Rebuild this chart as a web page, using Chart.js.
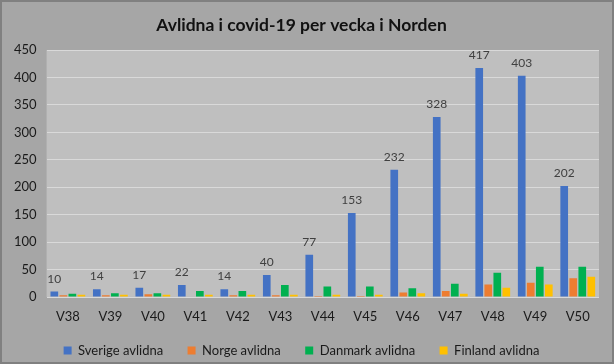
<!DOCTYPE html>
<html>
<head>
<meta charset="utf-8">
<script src="https://cdn.jsdelivr.net/npm/chart.js@4"></script>
<style>
  html, body { margin: 0; padding: 0; background: #a6a6a6; }
  #wrap { width: 614px; height: 364px; position: relative; }
</style>
</head>
<body>
<div id="wrap"><canvas id="deathsChart" width="614" height="364"></canvas></div>
<script>
// weeks and deaths per country
var weeks = ['V38', 'V39', 'V40', 'V41', 'V42', 'V43', 'V44', 'V45', 'V46', 'V47', 'V48', 'V49', 'V50'];
var sverige = [10, 14, 17, 22, 14, 40, 77, 153, 232, 328, 417, 403, 202];
var norge = [3, 3, 5, 0, 3, 3, 2, 2, 8, 11, 23, 26, 34];
var danmark = [6, 7, 7, 11, 11, 22, 19, 19, 16, 24, 44, 55, 55];
var finland = [4, 4, 4, 4, 4, 4, 4, 4, 7, 6, 17, 23, 37];

// backgrounds + outer border
var bgPlugin = {
  id: 'bg',
  beforeDraw: function (chart) {
    var ctx = chart.ctx, a = chart.chartArea
    ctx.save()
    ctx.fillStyle = '#a6a6a6'
    ctx.fillRect(0, 0, chart.width, chart.height)
    ctx.fillStyle = '#bfbfbf'
    ctx.fillRect(a.left, a.top, a.right - a.left, a.bottom - a.top)
    ctx.strokeStyle = '#808080'
    ctx.lineWidth = 2
    ctx.strokeRect(1, 1, chart.width - 2, chart.height - 2)
    ctx.restore()
  }
}

// value labels above the Sverige bars only
var labelPlugin = {
  id: 'sverigeLabels',
  afterDatasetsDraw: function (chart) {
    var ctx = chart.ctx
    var meta = chart.getDatasetMeta(0)
    ctx.save()
    ctx.font = '12px Lato, sans-serif'
    ctx.fillStyle = '#404040'
    ctx.textAlign = 'center'
    ctx.textBaseline = 'alphabetic'
    meta.data.forEach(function (bar, i) {
      ctx.fillText(sverige[i], bar.x, bar.y - 9)
    })
    ctx.restore()
  }
}

var ctx = document.getElementById('deathsChart').getContext('2d')
new Chart(ctx, {
  type: 'bar',
  data: {
    labels: weeks,
    datasets: [
      { label: 'Sverige avlidna', data: sverige, backgroundColor: '#4472c4' },
      { label: 'Norge avlidna', data: norge, backgroundColor: '#ed7d31' },
      { label: 'Danmark avlidna', data: danmark, backgroundColor: '#00b050' },
      { label: 'Finland avlidna', data: finland, backgroundColor: '#ffc000' }
    ]
  },
  options: {
    responsive: false,
    animation: false,
    layout: { padding: { left: 4, right: 15, top: 6, bottom: -3 } },
    datasets: { bar: { categoryPercentage: 0.85, barPercentage: 0.85 } },
    plugins: {
      title: {
        display: true,
        text: 'Avlidna i covid-19 per vecka i Norden',
        color: '#111111',
        font: { family: 'Lato', size: 17.5, weight: 'bold' },
        padding: { top: 9, bottom: 14 }
      },
      legend: {
        position: 'bottom',
        labels: {
          color: '#1a1a1a',
          boxWidth: 8,
          boxHeight: 8,
          padding: 8,
          font: { family: 'Lato', size: 13 },
          // extra gap between legend entries
          generateLabels: function (chart) {
            var items = Chart.defaults.plugins.legend.labels.generateLabels(chart)
            items.forEach(function (it, i) {
              if (i < items.length - 1) it.text = it.text + '\u2003  '
            })
            return items
          }
        }
      },
      tooltip: { enabled: false }
    },
    scales: {
      x: {
        grid: { display: false },
        border: { display: false },
        ticks: { color: '#1a1a1a', font: { family: 'Lato', size: 13 }, padding: 4 },
        afterFit: function (scale) { scale.height = 39 }
      },
      y: {
        min: 0,
        max: 450,
        ticks: { stepSize: 50, color: '#1a1a1a', font: { family: 'Lato', size: 13 }, padding: 10 },
        grid: { color: '#d9d9d9', lineWidth: 1, drawTicks: false },
        border: { display: false }
      }
    }
  },
  plugins: [bgPlugin, labelPlugin]
})
</script>
</body>
</html>
